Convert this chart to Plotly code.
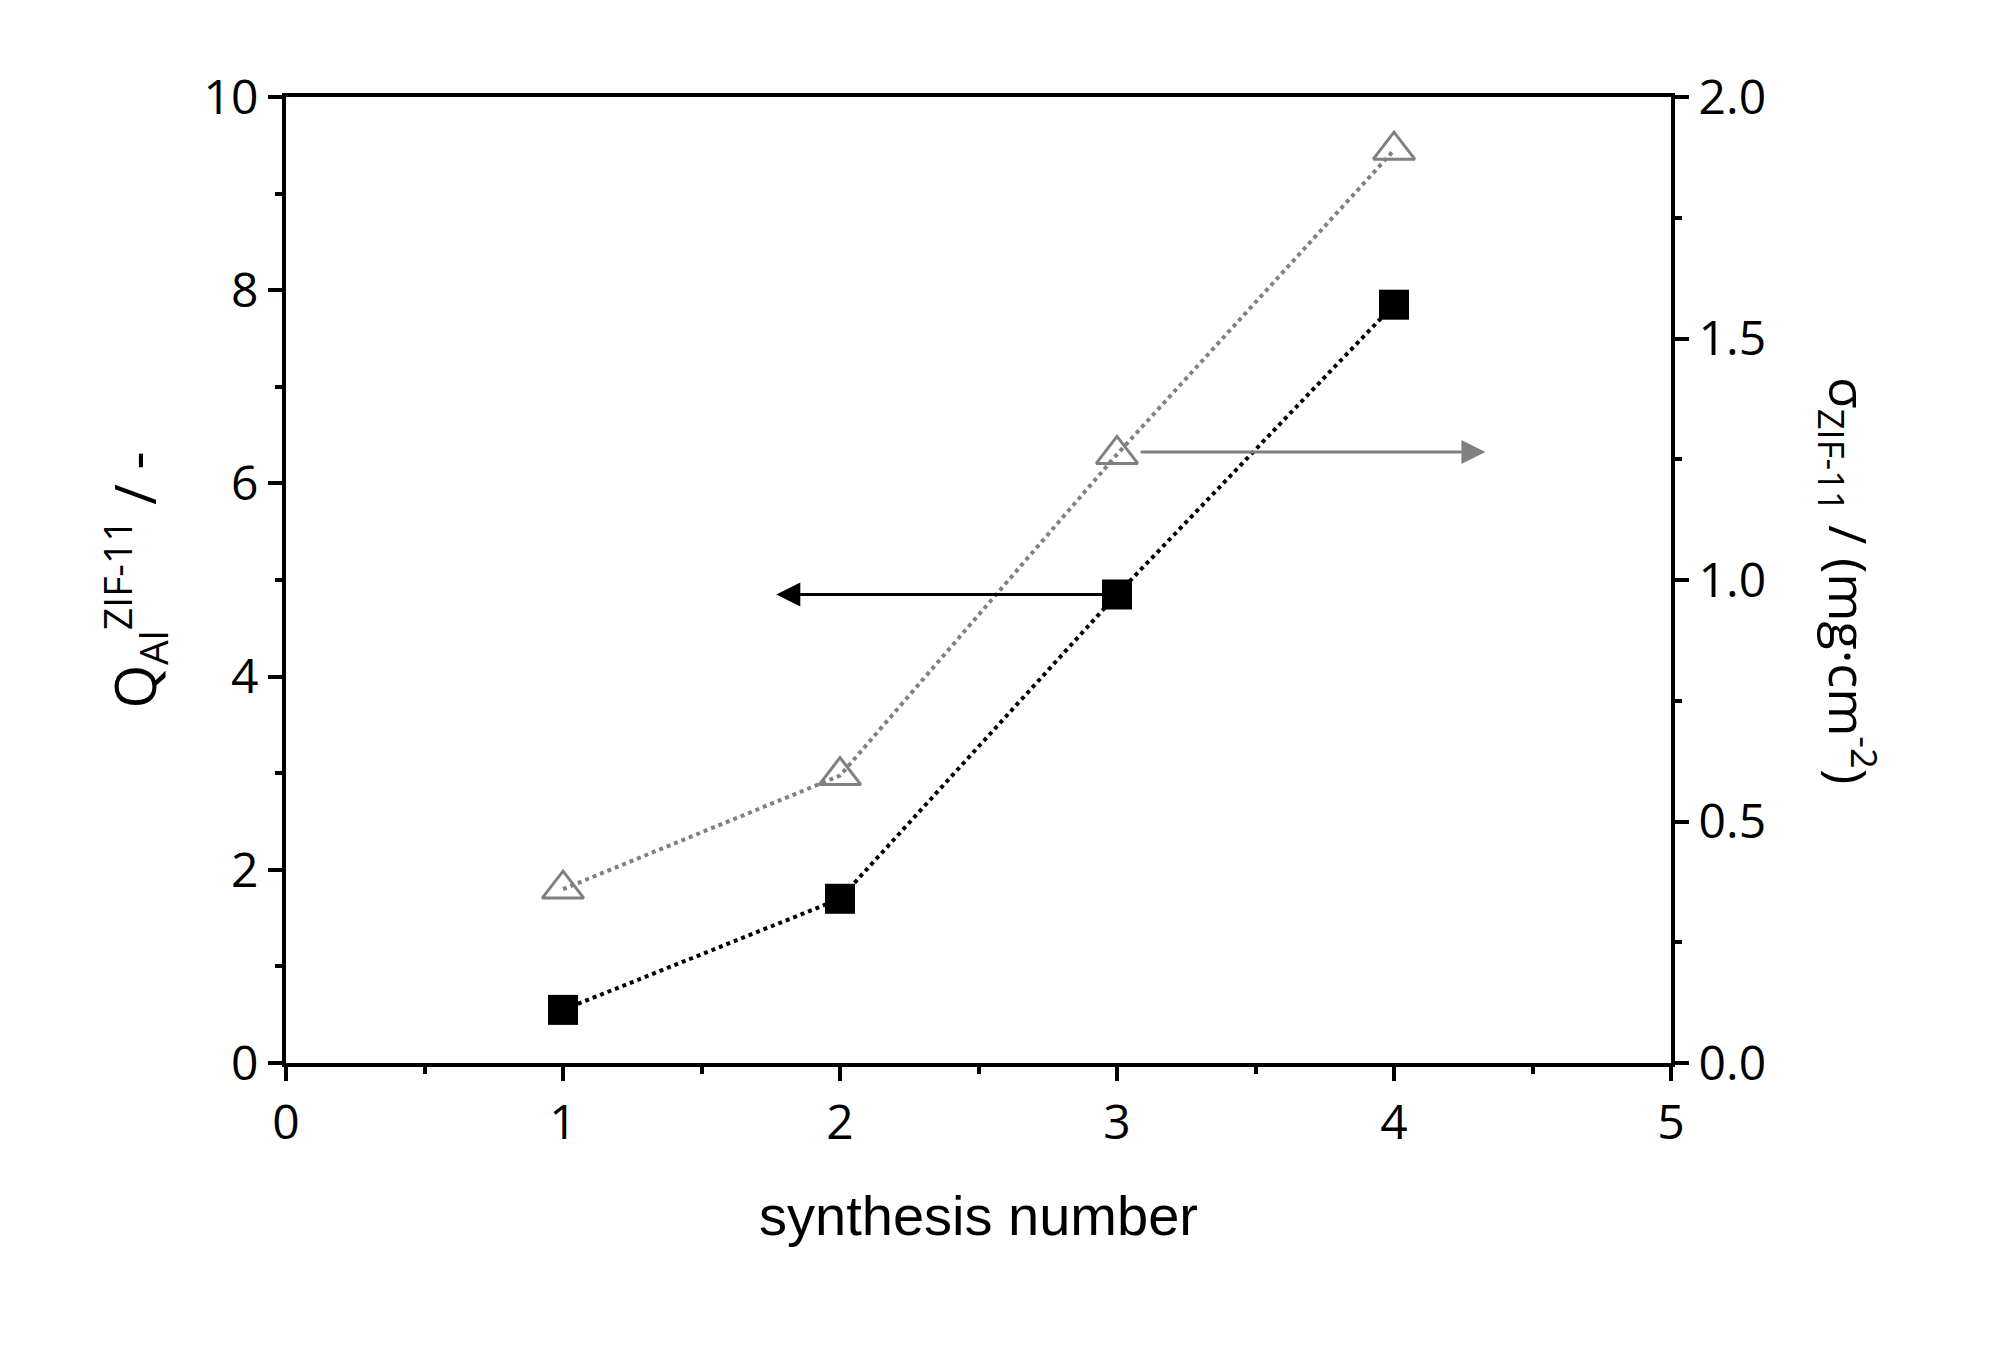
import plotly.graph_objects as go

synthesis = [1, 2, 3, 4]
q_al = [0.55, 1.7, 4.85, 7.85]
sigma = [0.36, 0.595, 1.26, 1.89]

FONT = "Open Sans"
fig = go.Figure()
fig.add_trace(go.Scatter(x=synthesis, y=q_al, mode="lines+markers",
                         line=dict(color="black", dash="dot", width=4),
                         marker=dict(symbol="square", size=30, color="black")))
fig.add_trace(go.Scatter(x=synthesis, y=sigma, yaxis="y2", mode="lines+markers",
                         line=dict(color="#808080", dash="dot", width=4),
                         marker=dict(symbol="triangle-up-open", size=36, color="#808080",
                                     line=dict(width=3))))

# arrows pointing to the relevant axis
fig.add_annotation(x=1.77, y=4.85, ax=3.0, ay=4.85, xref="x", yref="y", axref="x", ayref="y",
                   text="", showarrow=True, arrowhead=2, arrowsize=1.6, arrowwidth=3,
                   arrowcolor="black", standoff=0)
fig.add_annotation(x=4.33, y=1.265, ax=3.08, ay=1.265, xref="x", yref="y2", axref="x", ayref="y2",
                   text="", showarrow=True, arrowhead=2, arrowsize=1.6, arrowwidth=3,
                   arrowcolor="#808080", standoff=0)
fig.add_annotation(x=1.16, y=0.5, xref="paper", yref="paper", showarrow=False, textangle=90,
                   text="σ<sub>ZIF-11</sub> / (mg·cm<sup>-2</sup>)",
                   font=dict(family=FONT, size=52, color="black"))

axis_common = dict(showline=True, linecolor="black", linewidth=4, ticks="outside",
                   ticklen=14, tickwidth=4, tickcolor="black", showgrid=False, zeroline=False,
                   tickfont=dict(family=FONT, size=48, color="black"))
minor_common = dict(ticks="outside", ticklen=7, tickwidth=4, tickcolor="black")

fig.update_layout(
    width=2002, height=1353, plot_bgcolor="white", paper_bgcolor="white", showlegend=False,
    margin=dict(l=278, r=339, t=89, b=298),
    xaxis=dict(range=[0, 5], dtick=1, mirror=True, minor=dict(dtick=0.5, **minor_common),
               title=dict(text="synthesis number", font=dict(family="Liberation Sans", size=56, color="black"),
                          standoff=45),
               **axis_common),
    yaxis=dict(range=[0, 10], dtick=2, minor=dict(dtick=1, **minor_common),
               title=dict(text="Q<sub>Al</sub><sup>ZIF-11</sup> / -", font=dict(family=FONT, size=56, color="black"),
                          standoff=30),
               **axis_common),
    yaxis2=dict(range=[0, 2], dtick=0.5, tickformat=".1f", overlaying="y", side="right",
                minor=dict(dtick=0.25, **minor_common), **axis_common),
)
fig.write_html("out.html")
